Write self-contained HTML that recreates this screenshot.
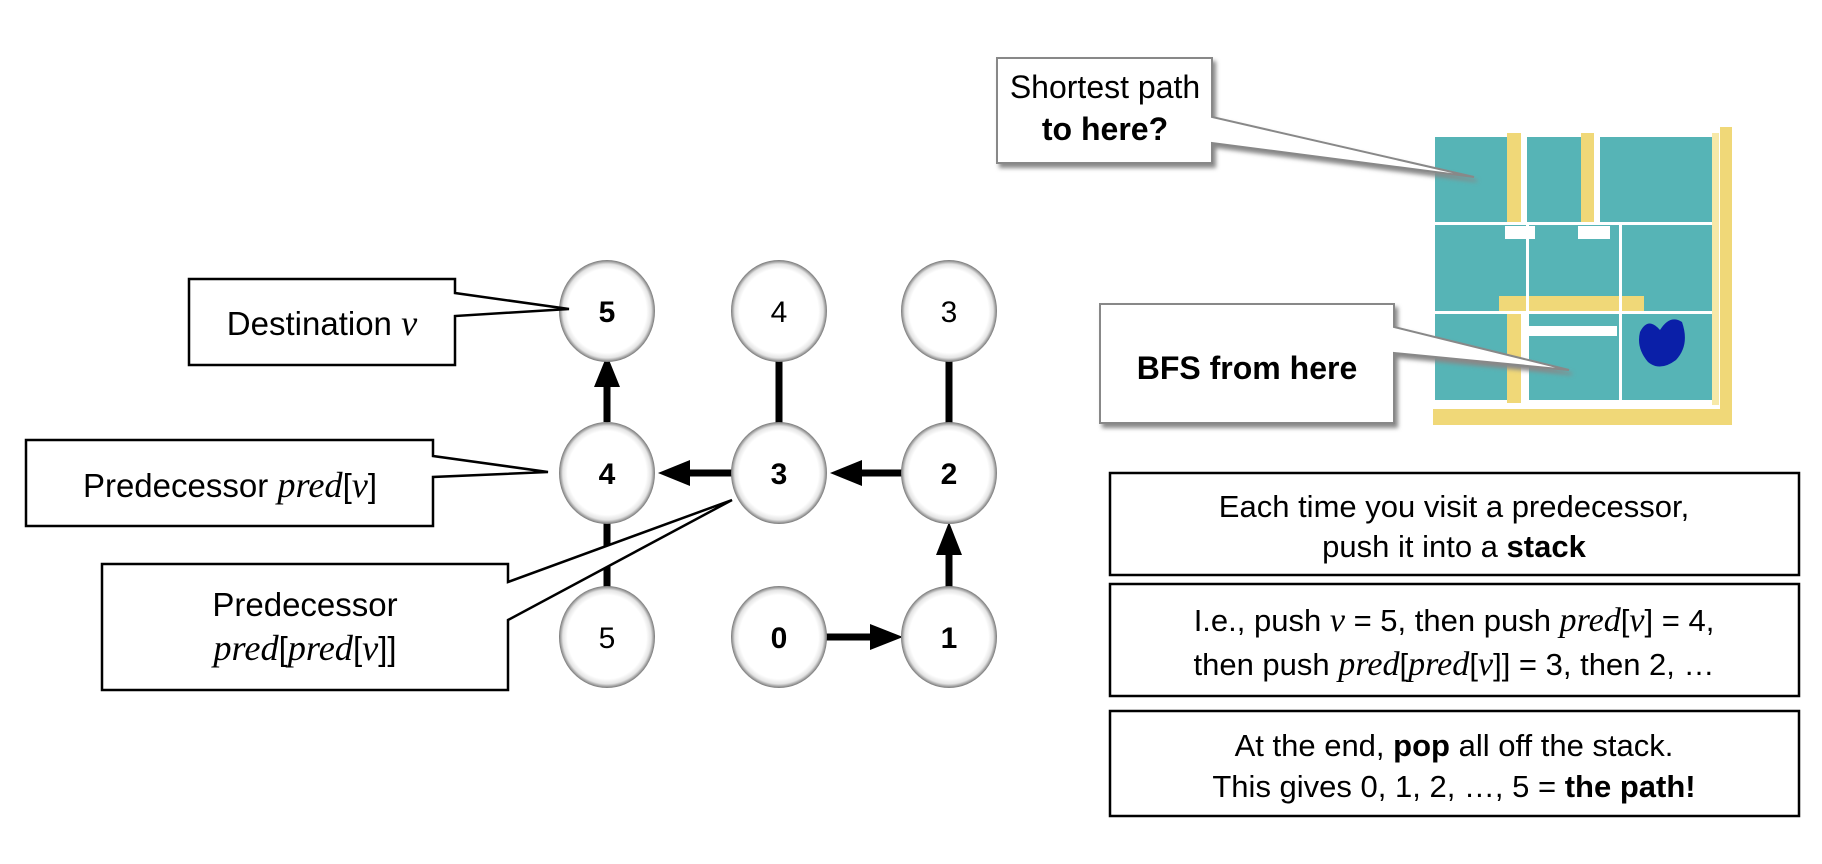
<!DOCTYPE html>
<html><head><meta charset="utf-8"><style>
body{margin:0;background:#fff;width:1822px;height:864px;overflow:hidden}
svg{display:block}
text{font-family:"Liberation Sans",sans-serif;fill:#000}
.m{font-family:"Liberation Serif",serif;font-style:italic;font-size:1.1em}
</style></head><body>
<svg width="1822" height="864" viewBox="0 0 1822 864">
<defs>
<radialGradient id="ng" cx="50%" cy="50%" r="50%">
<stop offset="82%" stop-color="#fff"/><stop offset="92%" stop-color="#e4e4e4"/><stop offset="100%" stop-color="#777"/>
</radialGradient>
<filter id="sh" x="-10%" y="-10%" width="130%" height="130%"><feDropShadow dx="3" dy="4" stdDeviation="2" flood-color="#888"/></filter>
</defs>
<g stroke="#000" stroke-width="7" fill="#000">
<line x1="779" y1="360" x2="779" y2="425"/>
<line x1="949" y1="360" x2="949" y2="425"/>
<line x1="607" y1="520" x2="607" y2="590"/>
<line x1="607" y1="422" x2="607" y2="385"/>
<polygon points="607,355 594,387 620,387" stroke="none"/>
<line x1="732" y1="473" x2="690" y2="473"/>
<polygon points="658,473 690,460 690,486" stroke="none"/>
<line x1="902" y1="473" x2="862" y2="473"/>
<polygon points="830,473 862,460 862,486" stroke="none"/>
<line x1="949" y1="590" x2="949" y2="555"/>
<polygon points="949,522 936,555 962,555" stroke="none"/>
<line x1="826" y1="637" x2="870" y2="637"/>
<polygon points="903,637 870,624 870,650" stroke="none"/>
</g>
<g font-size="30" text-anchor="middle">
<g><ellipse cx="607" cy="311" rx="48" ry="51" fill="url(#ng)"/><text x="607" y="322" font-weight="bold">5</text></g>
<g><ellipse cx="779" cy="311" rx="48" ry="51" fill="url(#ng)"/><text x="779" y="322">4</text></g>
<g><ellipse cx="949" cy="311" rx="48" ry="51" fill="url(#ng)"/><text x="949" y="322">3</text></g>
<g><ellipse cx="607" cy="473" rx="48" ry="51" fill="url(#ng)"/><text x="607" y="484" font-weight="bold">4</text></g>
<g><ellipse cx="779" cy="473" rx="48" ry="51" fill="url(#ng)"/><text x="779" y="484" font-weight="bold">3</text></g>
<g><ellipse cx="949" cy="473" rx="48" ry="51" fill="url(#ng)"/><text x="949" y="484" font-weight="bold">2</text></g>
<g><ellipse cx="607" cy="637" rx="48" ry="51" fill="url(#ng)"/><text x="607" y="648">5</text></g>
<g><ellipse cx="779" cy="637" rx="48" ry="51" fill="url(#ng)"/><text x="779" y="648" font-weight="bold">0</text></g>
<g><ellipse cx="949" cy="637" rx="48" ry="51" fill="url(#ng)"/><text x="949" y="648" font-weight="bold">1</text></g>
</g>
<g stroke="#000" stroke-width="2.5" fill="#fff">
<path d="M189,279 H455 V293 L569,309 L455,316 V365 H189 Z"/>
<path d="M26,440 H433 V456 L548,472 L433,477 V526 H26 Z"/>
<path d="M102,564 H508 V582 L732,500 L508,620 V690 H102 Z"/>
</g>
<text x="322" y="335" font-size="33" text-anchor="middle">Destination <tspan class="m">v</tspan></text>
<text x="230" y="497" font-size="33" text-anchor="middle">Predecessor <tspan class="m">pred</tspan>[<tspan class="m">v</tspan>]</text>
<text x="305" y="616" font-size="33" text-anchor="middle">Predecessor</text>
<text x="305" y="660" font-size="33" text-anchor="middle"><tspan class="m">pred</tspan>[<tspan class="m">pred</tspan>[<tspan class="m">v</tspan>]]</text>
<!-- maze -->
<g>
<rect x="1435" y="137" width="280" height="263" fill="#56b4b6"/>
<rect x="1507" y="133" width="14" height="92" fill="#f0d878"/>
<rect x="1521" y="133" width="6" height="92" fill="#fff"/>
<rect x="1581" y="133" width="13" height="92" fill="#f0d878"/>
<rect x="1594" y="133" width="6" height="92" fill="#fff"/>
<rect x="1505" y="226" width="30" height="13" fill="#fff"/>
<rect x="1578" y="226" width="32" height="13" fill="#fff"/>
<rect x="1499" y="296" width="145" height="17" fill="#f0d878"/>
<rect x="1507" y="313" width="14" height="90" fill="#f0d878"/>
<rect x="1521" y="313" width="6" height="87" fill="#fff"/>
<rect x="1527" y="326" width="90" height="10" fill="#fff"/>
<rect x="1435" y="222" width="285" height="3" fill="#fff"/>
<rect x="1435" y="311" width="285" height="3" fill="#fff"/>
<rect x="1526" y="225" width="3" height="175" fill="#fff"/>
<rect x="1619" y="225" width="3" height="175" fill="#fff"/>
<rect x="1712" y="133" width="7" height="272" fill="#f7e9a8"/>
<rect x="1720" y="127" width="12" height="298" fill="#f0d878"/>
<rect x="1433" y="409" width="299" height="16" fill="#f0d878"/>
<path d="M1640,332 Q1648,316 1660,330 Q1670,314 1682,322 Q1690,345 1676,360 Q1660,372 1648,362 Q1636,348 1640,332 Z" fill="#0a1fa8"/>
</g>
<g stroke="#888" stroke-width="2" fill="#fff" filter="url(#sh)">
<path d="M997,58 H1212 V117 L1474,177 L1212,143 V163 H997 Z"/>
<path d="M1100,304 H1394 V327 L1569,370 L1394,353 V423 H1100 Z"/>
</g>
<text x="1105" y="98" font-size="32" text-anchor="middle">Shortest path</text>
<text x="1105" y="140" font-size="32" font-weight="bold" text-anchor="middle">to here?</text>
<text x="1247" y="379" font-size="32" font-weight="bold" text-anchor="middle">BFS from here</text>
<g stroke="#000" stroke-width="2.5" fill="#fff">
<rect x="1110" y="473" width="689" height="102"/>
<rect x="1110" y="584" width="689" height="112"/>
<rect x="1110" y="711" width="689" height="105"/>
</g>
<g font-size="31" text-anchor="middle">
<text x="1454" y="517">Each time you visit a predecessor,</text>
<text x="1454" y="557">push it into a <tspan font-weight="bold">stack</tspan></text>
<text x="1454" y="631">I.e., push <tspan class="m">v</tspan> = 5, then push <tspan class="m">pred</tspan>[<tspan class="m">v</tspan>] = 4,</text>
<text x="1454" y="675">then push <tspan class="m">pred</tspan>[<tspan class="m">pred</tspan>[<tspan class="m">v</tspan>]] = 3, then 2, …</text>
<text x="1454" y="756">At the end, <tspan font-weight="bold">pop</tspan> all off the stack.</text>
<text x="1454" y="797">This gives 0, 1, 2, …, 5 = <tspan font-weight="bold">the path!</tspan></text>
</g>
</svg>
</body></html>
